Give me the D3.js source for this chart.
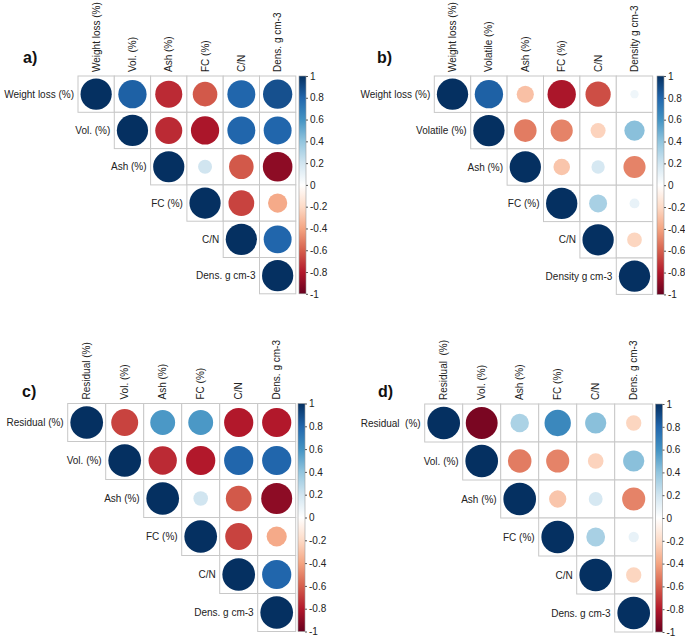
<!DOCTYPE html>
<html>
<head>
<meta charset="utf-8">
<script src="https://cdn.jsdelivr.net/npm/d3@7"></script>
<style>
body{margin:0;background:#fff}
text{font-family:"Liberation Sans",Arial,sans-serif}
</style>
</head>
<body>
<div id="graph"></div>
<script>
"use strict"
// variable names for each panel
var labelsA=['Weight loss (%)','Vol. (%)','Ash (%)','FC (%)','C/N','Dens. g cm-3']
var labelsB=['Weight loss (%)','Volatile (%)','Ash (%)','FC (%)','C/N','Density g cm-3']
var labelsC=['Residual (%)','Vol. (%)','Ash (%)','FC (%)','C/N','Dens. g cm-3']
var labelsD=['Residual  (%)','Vol. (%)','Ash (%)','FC (%)','C/N','Dens. g cm-3']

// upper triangle, row i starts at the diagonal
var corrA=[[1,0.82,-0.75,-0.62,0.80,0.88],[1,-0.75,-0.82,0.80,0.80],[1,0.20,-0.62,-0.90],[1,-0.68,-0.38],[1,0.80],[1]]
var corrB=[[1,0.82,-0.30,-0.82,-0.65,0.07],[1,-0.52,-0.50,-0.23,0.42],[1,-0.28,0.18,-0.50],[1,0.33,0.10],[1,-0.22],[1]]
var corrC=[[1,-0.68,0.58,0.58,-0.80,-0.80],[1,-0.75,-0.80,0.80,0.80],[1,0.20,-0.62,-0.90],[1,-0.68,-0.38],[1,0.80],[1]]
var corrD=[[1,-0.95,0.32,0.65,0.42,-0.22],[1,-0.52,-0.50,-0.23,0.42],[1,-0.28,0.18,-0.50],[1,0.33,0.10],[1,-0.22],[1]]

var barTicks=[1,0.8,0.6,0.4,0.2,0,-0.2,-0.4,-0.6,-0.8,-1]
var paletteStops=[-1,-0.8,-0.6,-0.4,-0.2,0,0.2,0.4,0.6,0.8,1]
var paletteCols=['#67001F','#B2182B','#D6604D','#F4A582','#FDDBC7','#FFFFFF','#D1E5F0','#92C5DE','#4393C3','#2166AC','#053061']

var panels=[
  {tag:'a)',labels:labelsA,corr:corrA,x0:78,y0:76,cell:36.3,bx:299,tx:23,ty:63},
  {tag:'b)',labels:labelsB,corr:corrB,x0:434.3,y0:76,cell:36.4,bx:657,tx:377,ty:63},
  {tag:'c)',labels:labelsC,corr:corrC,x0:67.7,y0:403.5,cell:38,bx:298,tx:22,ty:397},
  {tag:'d)',labels:labelsD,corr:corrD,x0:424.7,y0:404,cell:38,bx:655.5,tx:378,ty:397}
]

var color=d3.scaleLinear().domain(paletteStops).range(paletteCols)

var svg=d3.select('#graph').append('svg:svg').attr('width',685).attr('height',641)

// vertical gradient for the colour keys
var grad=svg.append('defs').append('linearGradient').attr('id','key').attr('x1',0).attr('y1',1).attr('x2',0).attr('y2',0)
paletteStops.forEach(function(s,i){
  grad.append('stop').attr('offset',(s+1)/2).attr('stop-color',paletteCols[i])
})

panels.forEach(drawPanel)

function drawPanel(p){
  var n=p.labels.length
  var g=svg.append('g')
  var pos=d3.scaleBand().domain(d3.range(n)).range([0,n*p.cell])
  var x=function(i){return p.x0+pos(i)}
  var y=function(i){return p.y0+pos(i)}
  var rad=d3.scaleSqrt().domain([0,1]).range([0,p.cell*0.43])

  var cells=[]
  p.corr.forEach(function(row,i){
    row.forEach(function(v,k){cells.push({i:i,j:i+k,v:v})})
  })

  g.selectAll('rect.cell').data(cells).enter().append('rect').attr('class','cell')
    .attr('x',function(d){return x(d.j)}).attr('y',function(d){return y(d.i)})
    .attr('width',pos.bandwidth()).attr('height',pos.bandwidth())
    .attr('fill','#fff').attr('stroke','#c8c8c8').attr('stroke-width',1)

  g.selectAll('circle').data(cells).enter().append('circle')
    .attr('cx',function(d){return x(d.j)+pos.bandwidth()/2})
    .attr('cy',function(d){return y(d.i)+pos.bandwidth()/2})
    .attr('r',function(d){return rad(Math.abs(d.v))})
    .attr('fill',function(d){return color(d.v)})

  // row labels, left of the diagonal
  g.selectAll('text.row').data(p.labels).enter().append('text').attr('class','row')
    .attr('x',function(d,i){return x(i)-4}).attr('y',function(d,i){return y(i)+pos.bandwidth()/2})
    .attr('dy','0.35em').attr('text-anchor','end').attr('font-size',10).attr('fill','#222')
    .style('white-space','pre').text(function(d){return d})

  // column labels, rotated
  g.selectAll('text.col').data(p.labels).enter().append('text').attr('class','col')
    .attr('transform',function(d,i){return 'translate('+(x(i)+pos.bandwidth()/2)+','+(p.y0-4)+')rotate(-90)'})
    .attr('dy','0.35em').attr('font-size',10).attr('fill','#222')
    .style('white-space','pre').text(function(d){return d})

  g.append('text').attr('x',p.tx).attr('y',p.ty).attr('font-size',16).attr('font-weight','bold')
    .attr('fill','#111').text(p.tag)

  // colour key
  var ky=d3.scaleLinear().domain([-1,1]).range([p.y0+n*p.cell,p.y0])
  g.append('rect').attr('x',p.bx).attr('y',p.y0).attr('width',7).attr('height',n*p.cell)
    .attr('fill','url(#key)').attr('stroke','#999').attr('stroke-width',0.6)
  var ax=g.append('g').attr('transform','translate('+(p.bx+7)+',0)')
    .call(d3.axisRight(ky).tickValues(barTicks).tickSize(2).tickPadding(2).tickFormat(function(d){return String(d)}))
  ax.select('.domain').remove()
  ax.selectAll('line').attr('stroke','#555')
  ax.selectAll('text').attr('font-size',10).attr('fill','#222').style('font-family','"Liberation Sans",Arial,sans-serif')
}
</script>
</body>
</html>
